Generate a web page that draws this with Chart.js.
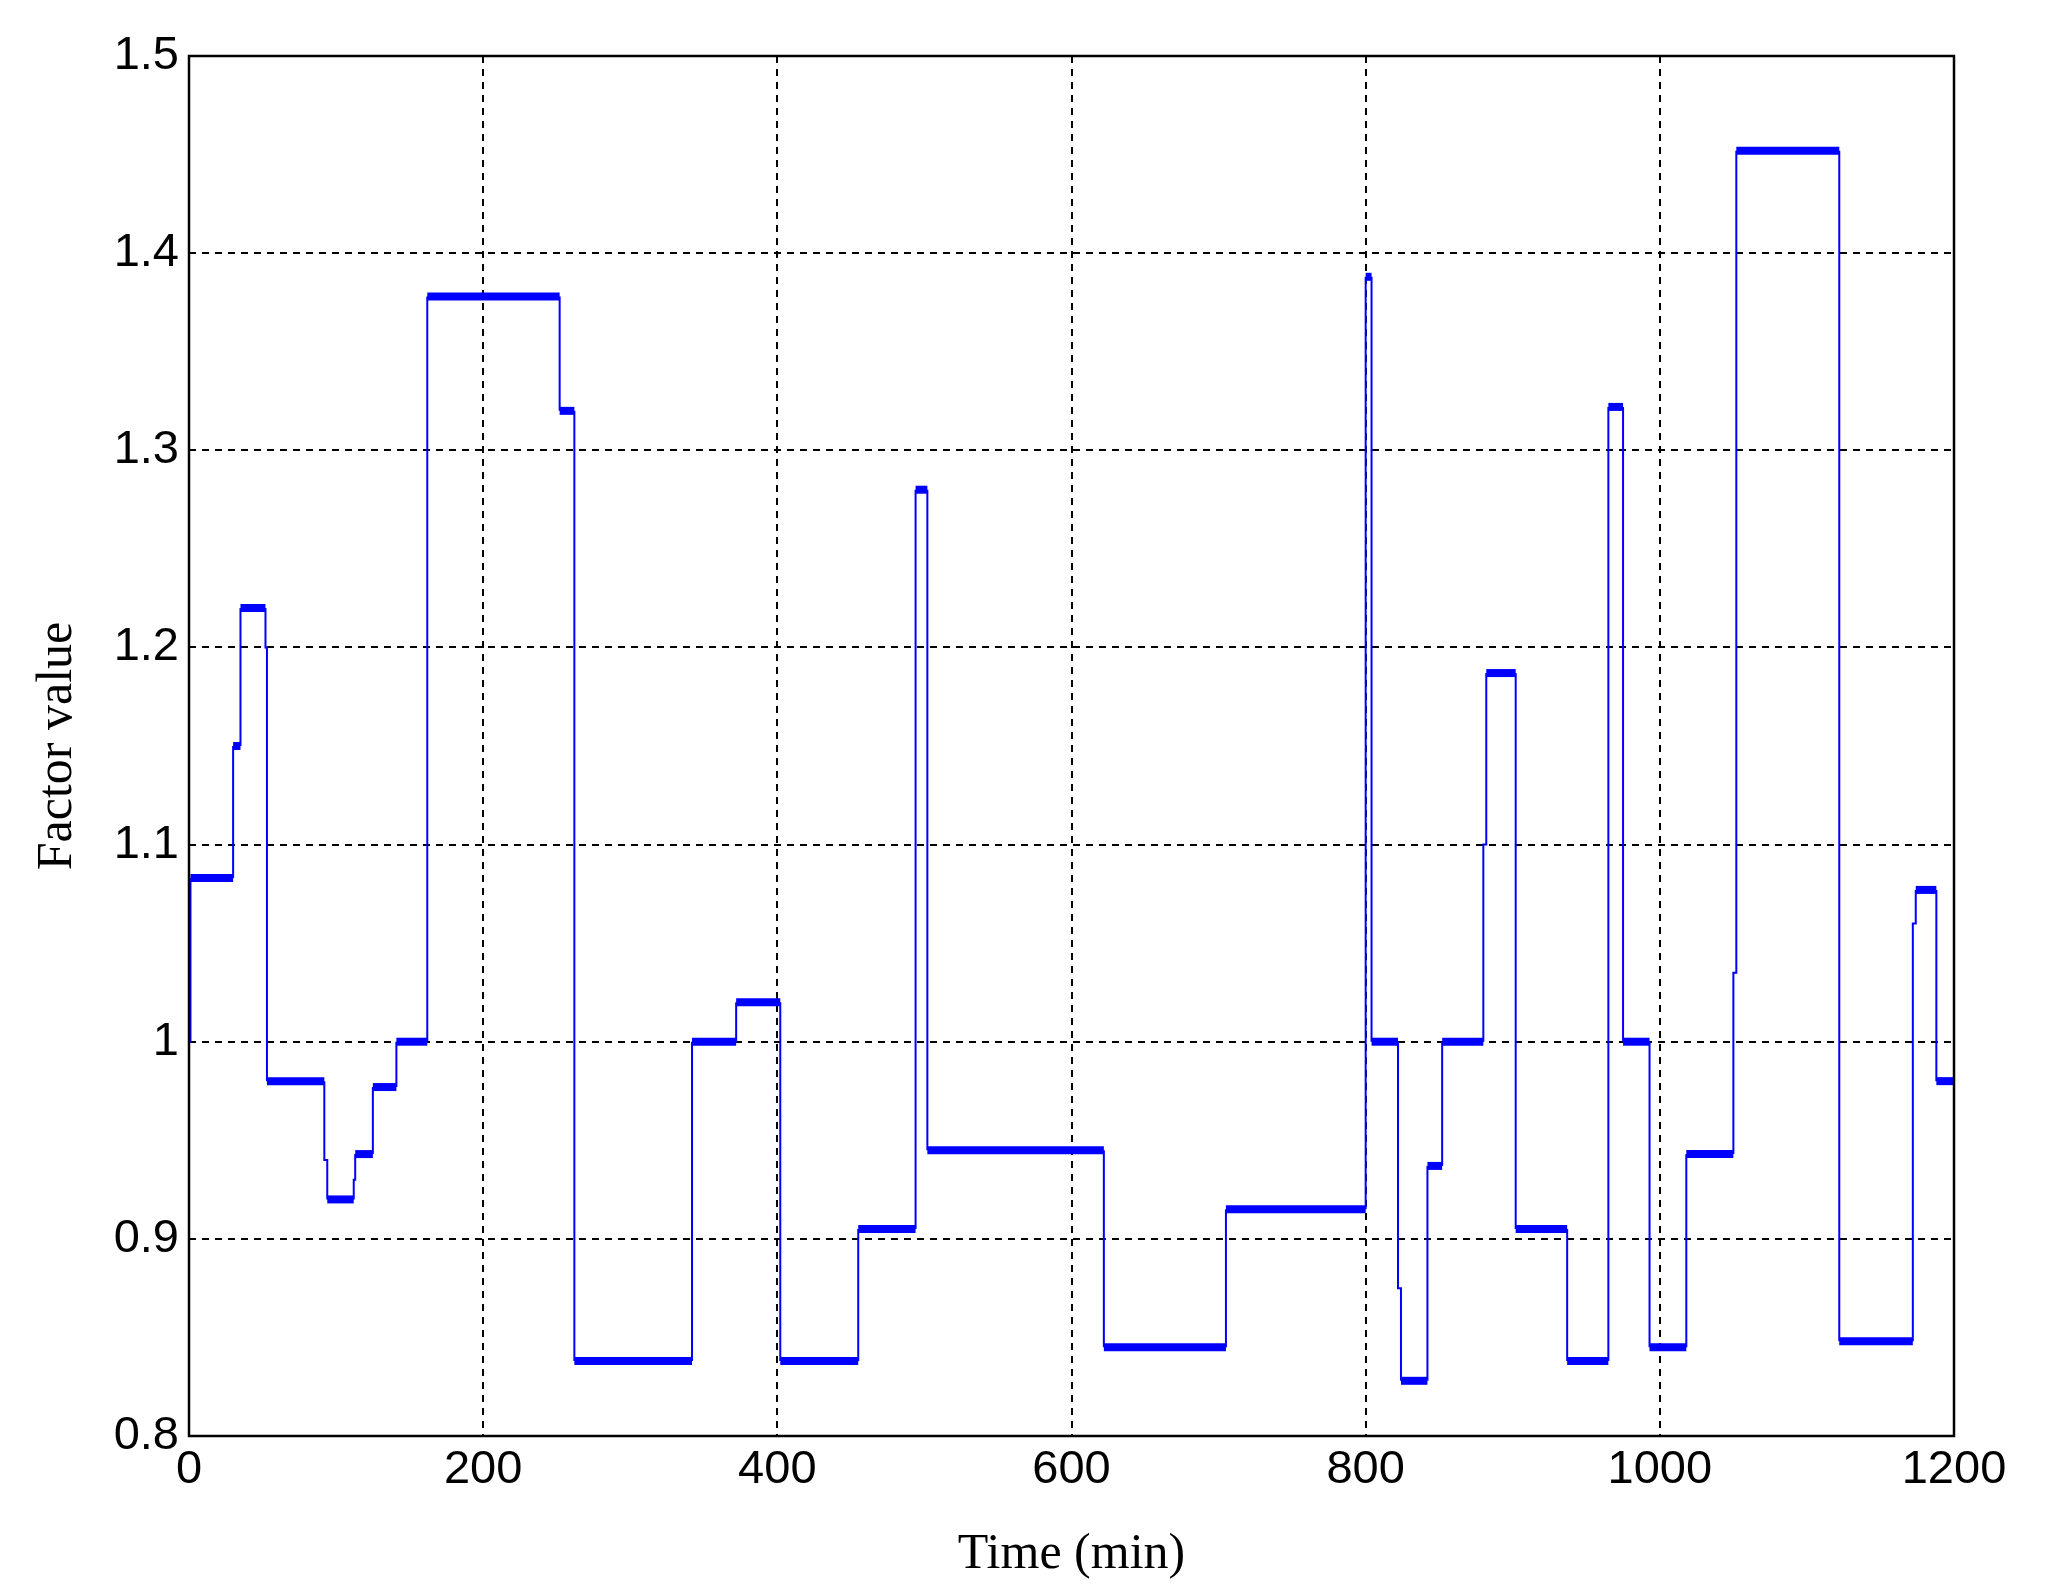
<!DOCTYPE html>
<html><head><meta charset="utf-8">
<script src="https://cdn.jsdelivr.net/npm/chart.js@4/dist/chart.umd.min.js"></script>
<style>html,body{margin:0;padding:0;background:#fff}#w{width:2046px;height:1595px}</style>
</head><body><div id="w"><canvas id="c"></canvas></div>
<script>
const stepStarts = [0,1,30,35,52,53,92,94,112,113,125,141,162,252,262,342,372,402,455,494,502,622,705,800,804,822,824,842,852,880,882,902,937,965,975,993,1018,1050,1052,1122,1172,1174,1188];
const stepValues = [1.0,1.083,1.15,1.22,1.2,0.98,0.94,0.92,0.93,0.943,0.977,1.0,1.378,1.32,0.838,1.0,1.02,0.838,0.905,1.28,0.945,0.845,0.915,1.388,1.0,0.875,0.828,0.937,1.0,1.1,1.187,0.905,0.838,1.322,1.0,0.845,0.943,1.035,1.452,0.848,1.06,1.077,0.98];
const endTime = 1200;
const xTicks = [0,200,400,600,800,1000,1200];
const yTicks = [0.8,0.9,1.0,1.1,1.2,1.3,1.4,1.5];

const pts = [];
stepStarts.forEach((t,i)=>{
  const tEnd = i+1<stepStarts.length ? stepStarts[i+1] : endTime;
  pts.push({x:t,y:stepValues[i]},{x:tEnd,y:stepValues[i]});
});

const frame = {id:'frame',afterDraw(ch){const a=ch.chartArea,c=ch.ctx;c.save();c.strokeStyle='#000';c.lineWidth=2.5;c.strokeRect(a.left,a.top,a.right-a.left,a.bottom-a.top);c.restore();}};

new Chart(document.getElementById('c'),{
  type:'line',
  data:{datasets:[{data:pts,borderColor:'#0000ff',pointRadius:0,borderWidth:2,
    segment:{borderWidth:ctx=>ctx.p0.parsed.y===ctx.p1.parsed.y && ctx.p1.parsed.x-ctx.p0.parsed.x>3 ? 8 : 2}}]},
  options:{responsive:true,maintainAspectRatio:false,animation:false,
    layout:{padding:{left:0,right:92,top:56,bottom:10}},
    plugins:{legend:{display:false},tooltip:{enabled:false}},
    scales:{
      x:{type:'linear',min:0,max:1200,
        afterBuildTicks:s=>{s.ticks=xTicks.map(v=>({value:v}));},
        afterFit:s=>{s.height=149;},
        grid:{color:'#000',lineWidth:2,drawTicks:false},
        border:{display:false,dash:[7,6]},
        ticks:{color:'#000',font:{family:'Liberation Sans',size:47},padding:6,maxRotation:0,callback:v=>String(v)},
        title:{display:true,text:'Time (min)',color:'#000',font:{family:'Liberation Serif',size:50},padding:{top:-6,bottom:0}}},
      y:{min:0.8,max:1.5,
        afterBuildTicks:s=>{s.ticks=yTicks.map(v=>({value:v}));},
        afterFit:s=>{s.width=189;},
        grid:{color:'#000',lineWidth:2,drawTicks:false},
        border:{display:false,dash:[7,6]},
        ticks:{color:'#000',font:{family:'Liberation Sans',size:47},padding:10,callback:v=>+v.toFixed(1)+''},
        title:{display:true,text:'Factor value',color:'#000',font:{family:'Liberation Serif',size:50},padding:{top:28,bottom:0}}}
    }},
  plugins:[frame]
});
</script></body></html>
